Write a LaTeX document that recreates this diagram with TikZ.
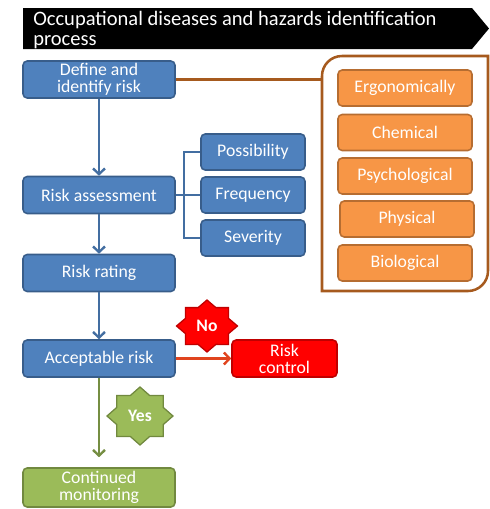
\documentclass[tikz,border=0pt]{standalone}
\usepackage{fontspec}
\setmainfont{Carlito}
\usetikzlibrary{arrows.meta}

\definecolor{boxblue}{HTML}{4F81BD}
\definecolor{blueedge}{HTML}{385D8A}
\definecolor{boxorange}{HTML}{F79646}
\definecolor{orangeedge}{HTML}{B66D31}
\definecolor{grpbrown}{HTML}{A65A1E}
\definecolor{boxgreen}{HTML}{9BBB59}
\definecolor{greenedge}{HTML}{71893F}
\definecolor{boxred}{HTML}{FF0000}
\definecolor{rededge}{HTML}{C00000}
\definecolor{redline}{HTML}{E0441E}

\begin{document}
\begin{tikzpicture}[x=0.025cm,y=-0.025cm,>={Straight Barb[length=4pt,width=8.5pt]},
    box/.style={line width=1.1pt,rounded corners=3pt,text=white,align=center,inner sep=0pt,
        font=\fontsize{12.6}{12}\selectfont},
    bluebox/.style={box,draw=blueedge,fill=boxblue,minimum width=3.8cm,minimum height=0.925cm},
    subbox/.style={box,draw=blueedge,fill=boxblue,minimum width=2.6cm,minimum height=0.9cm},
    hazbox/.style={box,draw=orangeedge,fill=boxorange,minimum width=3.35cm,minimum height=0.9cm},
    greenbox/.style={box,draw=greenedge,fill=boxgreen,minimum width=3.8cm,minimum height=0.975cm},
    redbox/.style={box,draw=rededge,fill=boxred,minimum width=2.625cm,minimum height=0.925cm},
    bluline/.style={draw=boxblue!85!black,line width=1.7pt},
    grpline/.style={draw=grpbrown,line width=1.8pt},
    startext/.style={text=white,font=\bfseries\fontsize{12.5}{12}\selectfont,inner sep=0pt}
]
\useasboundingbox (0,0) rectangle (490,509);

\def\rin{0.235}	%inner dent of the 8-point stars

%TITLE
\fill[black] (23,8) -- (472,8) -- (489,28.5) -- (472,49) -- (23,49) -- cycle;
\node[text=white,anchor=north west,align=left,inner sep=0pt,font=\fontsize{14.6}{14.2}\selectfont] (title) at (33,11)
    {Occupational diseases and hazards identification\\process};

%MAIN COLUMN
\node[bluebox] (define) at (99,79.5) {Define and\\identify risk};
\node[bluebox] (assess) at (99,195) {Risk assessment};
\node[bluebox] (rating) at (99,273) {Risk rating};
\node[bluebox] (accept) at (99,358.5) {Acceptable risk};
\node[greenbox] (monitor) at (99,487.5) {Continued\\monitoring};
\node[redbox] (control) at (284.5,358.5) {Risk\\control};

%FACTORS
\node[subbox] (poss) at (253,152) {Possibility};
\node[subbox] (freq) at (253,195) {Frequency};
\node[subbox] (sev) at (253,238) {Severity};

%HAZARD GROUP
\draw[grpline] (322,291) -- (322,76) arc[start angle=180,end angle=270,radius=20] -- (488,56)
    -- (488,271) arc[start angle=0,end angle=90,radius=20] -- cycle;
\coordinate (grp) at (322,79.5);
\node[hazbox] (ergo) at (405,88) {Ergonomically};
\node[hazbox] (chem) at (405,132.5) {Chemical};
\node[hazbox] (psych) at (405,176) {Psychological};
\node[hazbox] (phys) at (407,219) {Physical};
\node[hazbox] (bio) at (405,263) {Biological};

%CONNECTORS
\draw[grpline] (define.east) -- (grp);
\draw[bluline,->] (define) -- (assess);
\draw[bluline,->] (assess) -- (rating);
\draw[bluline,->] (rating) -- (accept);
\draw[bluline] (assess.east) -- ++(8,0) coordinate (fork) |- (poss.west);
\draw[bluline] (fork) |- (sev.west);
\draw[bluline] (fork) -- (freq.west);
\draw[draw=redline,line width=1.7pt,->] (accept) -- (control);
\draw[draw=greenedge!90!boxgreen,line width=1.7pt,->,shorten >=0.25cm] (accept) -- (monitor);

%STARS
\begin{scope}[shift={(207,326)}]
    \draw[fill=boxred,draw=rededge,line width=0.9pt] (0:30.5 and 26)
        \foreach \i in {1,...,15}{ -- ({\i*22.5}:{30.5*(1-\rin*mod(\i,2))} and {26*(1-\rin*mod(\i,2))}) } -- cycle;
    \node[startext] (no) at (0,0) {No};
\end{scope}
\begin{scope}[shift={(140,416)}]
    \draw[fill=boxgreen,draw=greenedge,line width=0.9pt] (0:33 and 29)
        \foreach \i in {1,...,15}{ -- ({\i*22.5}:{33*(1-\rin*mod(\i,2))} and {29*(1-\rin*mod(\i,2))}) } -- cycle;
    \node[startext] (yes) at (0,0) {Yes};
\end{scope}
\end{tikzpicture}
\end{document}
